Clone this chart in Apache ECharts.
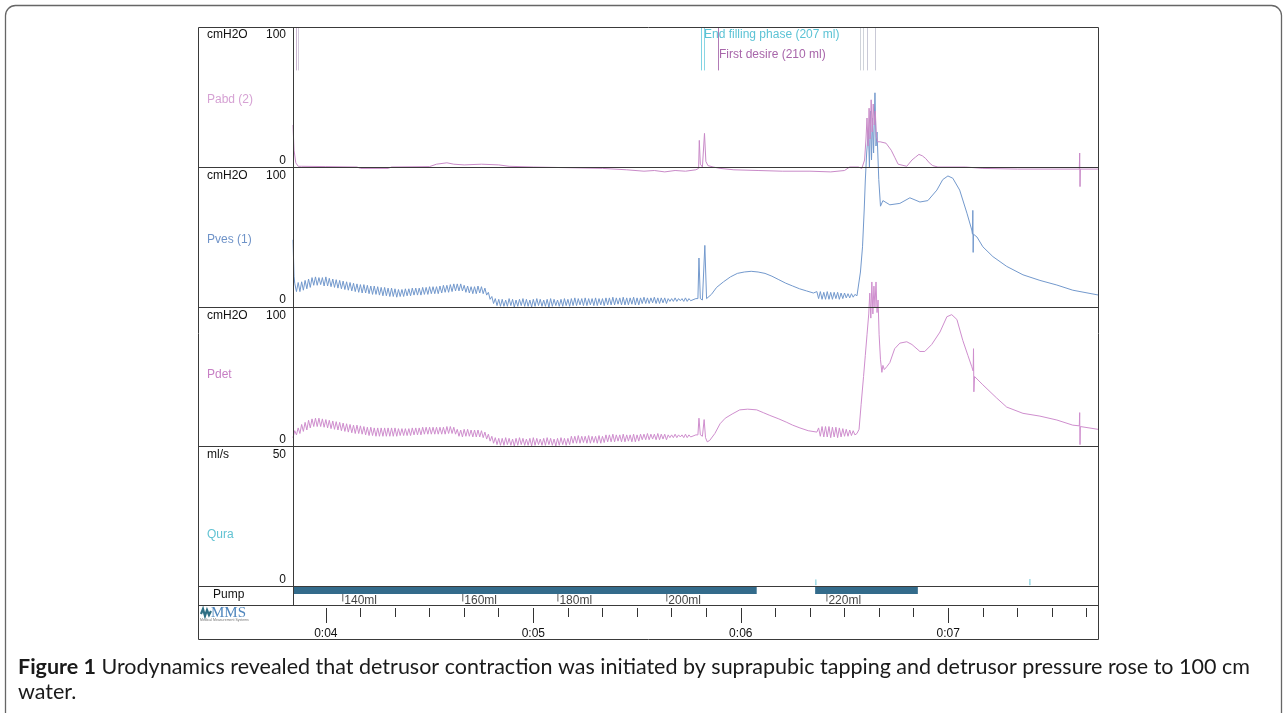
<!DOCTYPE html>
<html><head><meta charset="utf-8">
<script src="https://cdn.jsdelivr.net/npm/echarts@6/dist/echarts.min.js"></script>
<style>html,body{margin:0;padding:0;background:#fff;}#c{width:1287px;height:713px;}</style>
</head><body><div id="c"></div>
<script>
// ---------------- DATA ----------------
const T_MIN = 230.5, T_MAX = 463.3;          // seconds shown on the time axis
const FILL_T0 = 231, FILL_STEP = 0.5;        // *_FILL arrays: one reading every half second from t = 231 s

const PABD = [[230.5,30],[230.8,12],[231.3,3],[232,0.5],[233,0.5],[240,0.3],[249,0],[250,-1],[258,-1],[259,0],
  [270,0.3],[272,2],[275,3],[277,2],[280,1.5],[285,2],[290,1.5],[293,0.5],[300,0],[310,-0.5],[320,-1],[327,-2],
  [332,-3],[335,-2.5],[338,-3.5],[341,-2.5],[344,-3],[347,-2],[347.8,-1],[348.0,19],[348.3,2],[348.9,0],[349.5,24],
  [349.9,4],[350.5,1],[352,0],[354,-1],[358,-2],[365,-2.5],[372,-3],[380,-3],[386,-3.5],[390,-2.5],[391.5,0],[394,0],
  [395,-1],[395.8,5],[396.2,20],[396.5,35],[396.8,15],[397.1,42],[397.4,20],[397.7,48],[398,25],[398.3,45],[398.6,30],
  [398.9,40],[399.2,22],[399.6,18],[400.3,18],[402,17],[403.5,12],[404.5,7],[405.5,2],[406,1],[408,0.5],[409.5,5],
  [410.5,7],[411.5,9],[412.5,8],[413.5,6],[414.5,3],[415.5,1],[417,0],[425,0],[430,-1],[440,-1.5],[450,-1.5],
  [457.9,-1.5],[458.0,10],[458.1,-14],[458.2,-1.5],[463.3,-1.5]];

const PVES_HEAD = [[230.5,48],[230.8,22]];
const PVES_FILL = [
  17,11, 17.5,11, 18,12, 19,13, 20,14, 21,15.5, 21.5,15.5, 21,16, 21,15, 21.5,15,
  20.5,14.5, 20,14, 19.5,13.5, 19,13, 18.5,12.5, 18,12, 17.5,11.5, 17,11, 16.5,10.5, 16,10,
  16,10, 15.5,9.5, 15,9, 15,9, 14.5,8.5, 14,8, 14,8, 13.5,7.5, 13.5,7.5, 13,7,
  12.5,7.5, 12.5,7.5, 13,8, 13,8, 13.5,8.5, 13.5,8.5, 13.5,8.5, 14,9, 14,9, 14.5,9.5,
  14.5,9.5, 14.5,9.5, 15,10, 15.5,10.5, 15.5,10.5, 16,11, 16.5,11.5, 16.5,11.5, 16.5,11.5, 15.5,10.5,
  15,10, 14.5,9.5, 14.5,9.5, 15,10, 14.5,9.5, 13.5,8.5, 10.5,5.5, 7.5,2.5, 6,1, 5.5,0.5,
  5.5,0.5, 5,0.5, 6,1, 5.5,0, 5,0.5, 5.5,1, 6,0.5, 5.5,0.5, 5,0, 5.5,0.5,
  6,1, 5.5,0.5, 5,0.5, 5.5,0, 6,0.5, 5.5,1, 5,0.5, 5.5,0.5, 6,1, 5.5,0.5,
  6,1, 6.5,1, 6,1.5, 6,1, 6.5,1, 6,1.5, 6,1, 6.5,1, 6,1.5, 6,1,
  6.5,1.5, 6.5,1.5, 7,1.5, 6.5,2, 6.5,1.5, 7,1.5, 6.5,1.5, 6.5,2, 7,1.5, 6.5,1.5,
  6.5,2.5, 7,2.5, 6.5,2.5, 6.5,3, 7,2.5, 6.5,2.5, 6.5,3, 6.5,2.5, 6,4, 6,4,
  6.5,4, 6,4.5, 6,4, 6.5,4, 6,4.5];
const PVES_VOID = [[346,5],[347,6],[347.6,6],[347.9,35],[348.3,6],[348.9,5],[349.6,44],[350.1,6],[350.6,5],[351.5,9],
  [353,14],[355,18],[357,21.5],[359,24],[361,25],[363,25.5],[365,25],[367,24],[369,22],[371,19.5],[373,17],[375,15],
  [377,13],[379,11.5],[381,10],[382,11],[382.5,6],[383,11],[383.5,5.5],[384,10.5],[384.5,5.5],[385,11],[385.5,5.5],
  [386,10.5],[386.5,5.5],[387,10.5],[387.5,6],[388,10.5],[388.5,5.5],[389,10],[389.5,6],[390,10],[390.5,6.5],[391,9.5],
  [391.5,6.5],[392,9.5],[392.5,7],[393,9],[393.6,8],[394.1,9],[394.6,25],[395.2,43],[395.7,70],[396.0,90],[396.4,110],
  [396.9,126],[397.2,100],[397.5,140],[397.8,105],[398.1,135],[398.4,110],[398.8,153],[399.1,115],[399.4,125],[399.9,91],
  [400.4,72],[400.8,71],[401.1,76],[403.1,73],[406,74],[408.9,78],[411.8,75],[414.1,76],[416.7,83.5],[418.4,91],
  [419.9,93.6],[421.3,92],[423.3,83.5],[425.4,67],[426.8,55],[427.0,52],[427.1,69],[427.2,39],[427.3,52],[428.3,50],
  [430,43],[432.9,36],[436.9,29],[441.6,23],[446.5,19],[451.4,15.7],[456,12],[463.3,8.6]];

const PDET_HEAD = [[230.5,6]];
const PDET_FILL = [
  11,8, 13,9, 15.5,10.5, 17,11.5, 18.5,13, 19.5,14, 20,14, 20,14, 19.5,13.5, 19,13,
  18.5,12.5, 18,12, 17.5,11.5, 17,11, 16.5,10.5, 16,10, 15.5,9.5, 15,9, 15,9, 14.5,8.5,
  14,8, 13.5,7.5, 13.5,7.5, 13,7, 13,7, 13,7, 13,7, 13,7, 13,7, 13,7,
  12.5,7.5, 12.5,7.5, 12.5,7.5, 12.5,7.5, 13,8, 13,8, 13,8, 13.5,8.5, 13.5,8.5, 13.5,8.5,
  13.5,8.5, 13.5,8.5, 13.5,8.5, 13.5,8.5, 14,9, 14,9, 13.5,8.5, 12,7, 11.5,6.5, 12,7,
  12,7, 11.5,6.5, 11.5,6.5, 11.5,6.5, 11,6, 10,5, 8.5,3.5, 7,2, 6,1, 5.5,0.5,
  5.5,0.5, 6,1, 5.5,0.5, 5,0, 5.5,0.5, 6,1, 5.5,0.5, 5,0.5, 5.5,0, 6,0.5,
  5.5,1, 5,0.5, 5.5,0.5, 6,1, 5.5,0.5, 5,0, 5.5,0.5, 6,1, 5.5,0.5, 5.5,1,
  7,2, 7,2, 7.5,2, 7,2.5, 7,2, 7.5,2, 7,2.5, 7,2, 7.5,2, 7,2.5,
  8,3, 8,3, 8.5,3, 8,3.5, 8,3, 8.5,3, 8,3.5, 8,3, 8.5,3, 8,3.5,
  8.5,4.5, 8.5,4.5, 9,4.5, 8.5,5, 8.5,4.5, 9,4.5, 8.5,5, 8.5,4.5, 8,6, 8,6,
  8.5,6, 8,6.5, 8,6, 8.5,6, 8,6.5];
const PDET_VOID = [[346,7],[347,8],[347.6,8],[347.9,20],[348.3,8],[348.9,7],[349.4,19],[349.8,6],[350.3,3],[351,4],
  [352.5,9],[354,16],[355.5,20],[357.5,23],[359.7,26],[362,26.5],[364.6,26],[366.5,24],[368.4,22],[371,19.5],
  [373.3,17],[375,15],[377.1,13],[379.5,11],[382,10],[382.5,13],[383,7],[383.5,14],[384,6.5],[384.5,14],[385,6.5],
  [385.5,14],[386,6],[386.5,13.5],[387,6.5],[387.5,13.5],[388,6],[388.5,13],[389,6.5],[389.5,12.5],[390,7],[390.5,12],
  [391,7],[391.5,11.5],[392,7.5],[392.5,11],[393,8],[393.6,9],[394.2,12],[394.8,30],[395.5,50],[396,65],[396.5,80],
  [397,95],[397.3,110],[397.6,92],[397.9,118],[398.2,95],[398.5,115],[398.8,100],[399.1,118],[399.4,96],[399.7,105],
  [400,80],[400.4,62],[400.8,53],[401.1,58],[401.5,55],[402.2,57],[403.1,60],[404.5,70],[406,74],[408,75],[409.5,73],
  [411.8,68],[413.2,68],[415.2,73],[417.6,82],[419.6,93],[421,94.5],[422.5,91],[424.2,76],[425.7,65],[426.8,57],
  [427.2,54],[427.3,70],[427.4,39],[427.6,50],[430,44],[434,34.5],[436.9,28],[441.6,23.5],[446.5,21.5],[451.4,18.7],
  [456,15],[457.9,14.5],[458.0,24],[458.1,1],[458.2,14],[463.3,12]];

const QURA = [[381.6,0.3],[381.7,2.3],[381.8,0.3],[443.5,'-'],[443.5,0.3],[443.6,2.5],[443.7,0.3]];

const PUMP_ON = [[230.5,364.6],[381.5,411.2]];
const PUMP_VOL_T = [244.9,279.6,307.1,338.6,384.9];
const PUMP_VOL_LABELS = ['140ml','160ml','180ml','200ml','220ml'];

const TIME_MAJOR = [240,300,360,420];
const TIME_LABELS = ['0:04','0:05','0:06','0:07'];
const TIME_MINOR = [250,260,270,280,290,310,320,330,340,350,370,380,390,400,410,430,440,450,460];

const EVENT_T = [231.3,231.9,348.7,349.3,353.4,394.4,395.3,396.7,399.0];
const ANNOTATIONS = ['End filling phase (207 ml)','First desire (210 ml)'];

const PANEL_NAMES = ['Pabd (2)','Pves (1)','Pdet','Qura'];
const PANEL_UNITS = ['cmH2O','cmH2O','cmH2O','ml/s'];
const PANEL_MAX = [100,100,100,50];
const PANEL_MIN_LABEL = ['0','0','0','0'];
const PUMP_NAME = 'Pump';

const CAPTION_BOLD = 'Figure 1';
const CAPTION_REST = ' Urodynamics revealed that detrusor contraction was initiated by suprapubic tapping and detrusor pressure rose to 100 cm';
const CAPTION_LINE2 = 'water.';

// ---------------- LAYOUT / STYLE ----------------
const L = 293, R = 1098, BOX_L = 198, BOX_T = 27, BOX_B = 639;
const W = R - L;
const PANEL_TOP = [27,167,307,446];
const PANEL_H = [140,140,139,140];
const PUMP_TOP = 586, PUMP_H = 19;
const FONT = 'Liberation Sans, Arial, sans-serif';
const LINE_C = '#3a3a3a';
const NAME_COLORS = ['#d6a2d4','#6f93c8','#c77fc4','#62c3d3'];
const EVENT_COLORS = ['#cbb6d3','#d5c8dc','#7fd3e3','#8ad6e4','#b27bb6','#cfd3da','#cfd3da','#c9c9d6','#c9c9d6'];

function fillToPairs(arr){ return arr.map((v,i)=>[FILL_T0+i*FILL_STEP, v]); }

const chart = echarts.init(document.getElementById('c'), null, {renderer:'canvas'});

// caption size fitted to width of reference line
const ctx = document.createElement('canvas').getContext('2d');
const CAP_FAMILY = 'Lato, "Open Sans", sans-serif';
ctx.font = 'bold 20px ' + CAP_FAMILY; const cw1 = ctx.measureText(CAPTION_BOLD).width;
ctx.font = '20px ' + CAP_FAMILY; const cw2 = ctx.measureText(CAPTION_REST).width;
const CAP_SIZE = 20 * 1232 / (cw1 + cw2);

const grids = [], xAxes = [], yAxes = [];
for (let i=0;i<4;i++){
  grids.push({left:L, top:PANEL_TOP[i], width:W, height:PANEL_H[i]});
  xAxes.push({gridIndex:i, type:'value', min:T_MIN, max:T_MAX, show:false});
  yAxes.push({gridIndex:i, type:'value', min:0, max:PANEL_MAX[i], show:false});
}
grids.push({left:L, top:PUMP_TOP, width:W, height:PUMP_H});
xAxes.push({gridIndex:4, type:'value', min:T_MIN, max:T_MAX, show:false});
yAxes.push({gridIndex:4, type:'value', min:0, max:1, show:false});
grids.push({left:L, top:598, width:W, height:10});
xAxes.push({gridIndex:5, type:'value', min:T_MIN, max:T_MAX, position:'bottom',
  axisLine:{show:false}, splitLine:{show:false},
  axisTick:{show:true, length:15, customValues:TIME_MAJOR, lineStyle:{color:'#333', width:1}},
  axisLabel:{show:true, margin:20, customValues:TIME_MAJOR, formatter:(v)=>TIME_LABELS[TIME_MAJOR.indexOf(v)] || '',
    color:'#111', fontSize:12, fontFamily:FONT}});
xAxes.push({gridIndex:5, type:'value', min:T_MIN, max:T_MAX, position:'bottom',
  axisLine:{show:false}, splitLine:{show:false}, axisLabel:{show:false},
  axisTick:{show:true, length:9, customValues:TIME_MINOR, lineStyle:{color:'#333', width:1}}});
yAxes.push({gridIndex:5, type:'value', min:0, max:1, show:false});

const lineBase = {type:'line', symbol:'none', clip:false, animation:false, silent:true};

const series = [
  Object.assign({}, lineBase, {name:'Pabd', xAxisIndex:0, yAxisIndex:0, data:PABD, z:4,
    lineStyle:{color:'#c98ac8', width:1},
    markLine:{silent:true, symbol:['none','none'], label:{show:false}, animation:false,
      data:EVENT_T.map((t,i)=>[{coord:[t,100], lineStyle:{color:EVENT_COLORS[i], width:1, type:'solid'}},{coord:[t,69]}])}}),
  Object.assign({}, lineBase, {name:'Pves', xAxisIndex:1, yAxisIndex:1, z:3,
    data:PVES_HEAD.concat(fillToPairs(PVES_FILL), PVES_VOID), lineStyle:{color:'#7399cd', width:1}}),
  Object.assign({}, lineBase, {name:'Pdet', xAxisIndex:2, yAxisIndex:2, z:3,
    data:PDET_HEAD.concat(fillToPairs(PDET_FILL), PDET_VOID), lineStyle:{color:'#cf8ece', width:1}}),
  Object.assign({}, lineBase, {name:'Qura', xAxisIndex:3, yAxisIndex:3, data:QURA, connectNulls:false,
    lineStyle:{color:'#9fdbe6', width:1}}),
];
PUMP_ON.forEach((seg)=>{
  series.push(Object.assign({}, lineBase, {name:'Pump', xAxisIndex:4, yAxisIndex:4,
    data:[[seg[0],0.76],[seg[1],0.76]], lineStyle:{color:'#336b8b', width:7, cap:'butt'}}));
});
series.push({type:'scatter', name:'PumpVol', xAxisIndex:4, yAxisIndex:4, silent:true, animation:false,
  symbol:'rect', symbolSize:[1,8], itemStyle:{color:'#333'},
  data:PUMP_VOL_T.map((t,i)=>({value:[t,0.4], name:PUMP_VOL_LABELS[i]})),
  label:{show:true, position:'right', distance:1, offset:[0,3.5], formatter:'{b}', color:'#111', fontSize:12, fontFamily:FONT}});

// frame & label column (graphic)
const g = [];
g.push({type:'rect', shape:{x:5.5,y:5.5,width:1276,height:730,r:10}, style:{fill:'none', stroke:'#666', lineWidth:1.3}, silent:true});
g.push({type:'rect', shape:{x:BOX_L+0.5,y:BOX_T+0.5,width:R-BOX_L,height:BOX_B-BOX_T}, style:{fill:'none', stroke:LINE_C, lineWidth:1}, silent:true, z:10});
[167,307,446,586,605].forEach(y=>g.push({type:'line', shape:{x1:BOX_L,y1:y+0.5,x2:R,y2:y+0.5}, style:{stroke:LINE_C, lineWidth:1}, silent:true, z:10}));
g.push({type:'line', shape:{x1:L+0.5,y1:BOX_T,x2:L+0.5,y2:605}, style:{stroke:LINE_C, lineWidth:1}, silent:true, z:10});

function txt(text, x, y, opt){
  return {type:'text', silent:true, z:11, style:Object.assign({text, x, y, fill:'#111', font:'12px '+FONT, align:'left', verticalAlign:'middle'}, opt||{})};
}
const UNIT_Y = [35,176,316,455], ZERO_Y = [161,300,440,580], NAME_Y = [100,240,375,535];
for (let i=0;i<4;i++){
  g.push(txt(PANEL_UNITS[i], 207, UNIT_Y[i]));
  g.push(txt(String(PANEL_MAX[i]), 286, UNIT_Y[i], {align:'right'}));
  g.push(txt(PANEL_MIN_LABEL[i], 286, ZERO_Y[i], {align:'right'}));
  g.push(txt(PANEL_NAMES[i], 207, NAME_Y[i], {fill:NAME_COLORS[i]}));
}
g.push(txt(PUMP_NAME, 213, 595));
g.push(txt(ANNOTATIONS[0], 704, 35, {fill:'#5cc3d5'}));
g.push(txt(ANNOTATIONS[1], 719, 55, {fill:'#a866aa'}));
// MMS logo
g.push({type:'polyline', silent:true, shape:{points:[[201,614],[203,609],[205,616],[207,610],[209,615],[211,611]]}, style:{stroke:'#2f6f84', lineWidth:2.2, fill:'none'}});
g.push(txt('MMS', 211, 613, {font:'15px "Liberation Serif", serif', fill:'#4f86bd'}));
g.push(txt('Medical Measurement Systems', 200, 620, {font:'3.5px '+FONT, fill:'#777'}));
// caption
g.push({type:'text', silent:true, style:{x:18, y:667, verticalAlign:'middle', fill:'#1a1a1a',
  text:'{b|'+CAPTION_BOLD+'}{r|'+CAPTION_REST+'}',
  rich:{b:{fontWeight:'bold', fontSize:CAP_SIZE, fontFamily:CAP_FAMILY, fill:'#1a1a1a'},
        r:{fontSize:CAP_SIZE, fontFamily:CAP_FAMILY, fill:'#1a1a1a'}}}});
g.push(txt(CAPTION_LINE2, 18, 692, {font:CAP_SIZE+'px '+CAP_FAMILY, fill:'#1a1a1a'}));

chart.setOption({animation:false, backgroundColor:'#fff', grid:grids, xAxis:xAxes, yAxis:yAxes, series, graphic:g});
</script></body></html>
